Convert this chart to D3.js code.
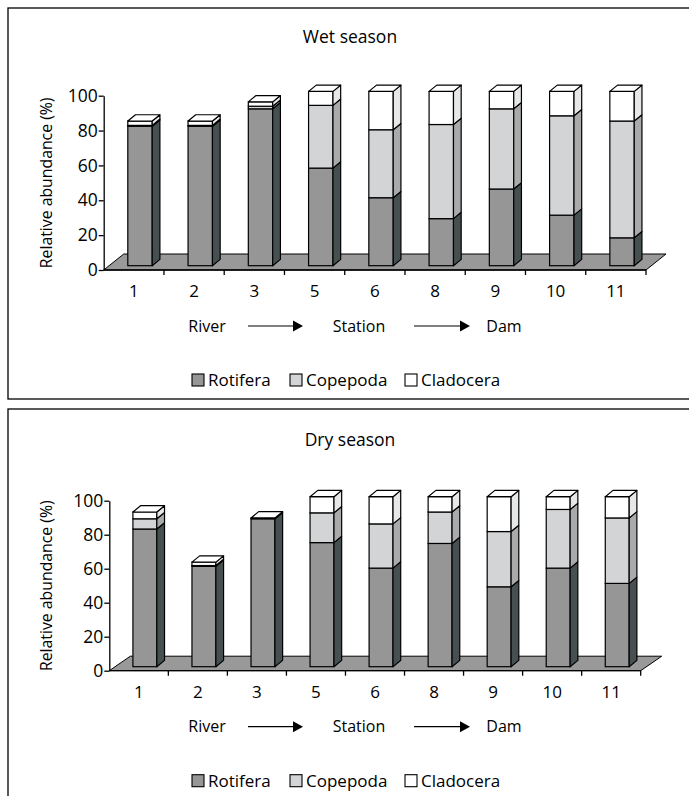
<!DOCTYPE html>
<html>
<head>
<meta charset="utf-8">
<script src="https://cdn.jsdelivr.net/npm/d3@7"></script>
<style>
  body { margin: 0; background: #fff; }
  svg text { font-family: "Open Sans", "Noto Sans", sans-serif; fill: #000; }
</style>
</head>
<body>
<div id="chart"></div>
<script>
// stations along the river -> dam gradient
var stations = ["1", "2", "3", "5", "6", "8", "9", "10", "11"];
var groups = ["Rotifera", "Copepoda", "Cladocera"];
var yTicks = [0, 20, 40, 60, 80, 100];
var flowLabels = ["River", "Station", "Dam"];

// relative abundance (%), wet season
var wetRotifera  = [80, 80, 90, 56, 39, 27, 44, 29, 16];
var wetCopepoda  = [0.5, 0.5, 1.5, 36, 39, 54, 46, 57, 67];
var wetCladocera = [2.5, 2.5, 2.5, 8, 22, 19, 10, 14, 17];

// relative abundance (%), dry season
var dryRotifera  = [81, 59, 87, 73, 58, 72.5, 47, 58, 49];
var dryCopepoda  = [6, 0.5, 0, 17.5, 26, 18.5, 32.5, 34.5, 38.5];
var dryCladocera = [4, 2, 0.5, 9.5, 16, 9, 20.5, 7.5, 12.5];

var frontFill = ["#969696", "#d3d4d5", "#ffffff"];
var sideFill  = ["#475050", "#a9aaab", "#e6e7e8"];
var topFill   = ["#b4b4b4", "#e2e2e2", "#ffffff"];

var W = 689, H = 796;
var svg = d3.select("#chart").append("svg").attr("width", W).attr("height", H);

function drawPanel(p) {
  var g = svg.append("g");

  // frame
  g.append("rect")
    .attr("x", p.box[0]).attr("y", p.box[1])
    .attr("width", p.box[2]).attr("height", p.box[3])
    .attr("fill", "none").attr("stroke", "#000").attr("stroke-width", 1.3);

  g.append("text")
    .attr("x", 350).attr("y", p.titleY).attr("dy", "0.35em")
    .attr("text-anchor", "middle").attr("font-size", "17.5px")
    .text(p.title);

  var x = d3.scaleBand().domain(stations).range([p.x0, p.x1]).padding(0);
  var y = d3.scaleLinear().domain([0, 100]).range([p.y0, p.y100]);
  var bw = x.bandwidth();

  // floor
  var fl = [[p.x0, p.y0], [p.x0 + p.fdx, p.y0 + p.fdy], [p.x1 + p.fdx, p.y0 + p.fdy], [p.x1, p.y0]];
  g.append("polygon")
    .attr("points", fl.map(d => d.join(",")).join(" "))
    .attr("fill", "#999999").attr("stroke", "#000").attr("stroke-width", 1);

  // y axis
  var ya = g.append("g")
    .attr("transform", "translate(" + p.x0 + ",0)")
    .call(d3.axisLeft(y).tickValues(yTicks).tickSize(5).tickPadding(1).tickSizeOuter(0));
  ya.select(".domain").attr("stroke", "#000").attr("stroke-width", 1.3);
  ya.selectAll(".tick line").attr("stroke", "#000").attr("stroke-width", 1.3);
  ya.selectAll(".tick text").attr("font-size", "17.5px").attr("font-family", null);

  g.append("text")
    .attr("transform", "translate(" + p.labelX + "," + ((p.y0 + p.y100) / 2) + ") rotate(-90)")
    .attr("text-anchor", "middle").attr("dy", "0.35em").attr("font-size", "15.8px")
    .text("Relative abundance (%)");

  // x axis line along the floor edge + boundary ticks
  g.append("line")
    .attr("x1", p.x0).attr("x2", p.x1).attr("y1", p.y0).attr("y2", p.y0)
    .attr("stroke", "#000").attr("stroke-width", 1.3);
  g.selectAll("line.xt")
    .data(stations.map(s => x(s) + bw))
    .enter().append("line")
    .attr("class", "xt")
    .attr("x1", d => d).attr("x2", d => d)
    .attr("y1", p.y0).attr("y2", p.y0 + 5)
    .attr("stroke", "#000").attr("stroke-width", 1.3);
  g.selectAll("text.xl")
    .data(stations)
    .enter().append("text")
    .attr("class", "xl")
    .attr("x", d => x(d) + bw / 2).attr("y", p.y0 + 21).attr("dy", "0.35em")
    .attr("text-anchor", "middle").attr("font-size", "17px")
    .text(d => d);

  // stacked 3d bars
  var dx = 7.7, dy = -6.3;
  var series = p.series;
  stations.forEach(function(st, i) {
    var fx = x(st) + bw * 0.4, fw = bw * 0.405;
    var yb = v => y(v) - p.lift;
    var acc = 0, lastIdx = 0;
    series.forEach(function(arr, k) {
      var v = arr[i];
      if (v <= 0) return;
      var t0 = yb(acc), t1 = yb(acc + v);
      g.append("rect")
        .attr("x", fx).attr("y", t1).attr("width", fw).attr("height", t0 - t1)
        .attr("fill", frontFill[k]).attr("stroke", "#000").attr("stroke-width", 1.2);
      var side = [[fx + fw, t0], [fx + fw + dx, t0 + dy], [fx + fw + dx, t1 + dy], [fx + fw, t1]];
      g.append("polygon")
        .attr("points", side.map(d => d.join(",")).join(" "))
        .attr("fill", sideFill[k]).attr("stroke", "#000").attr("stroke-width", 1.2)
        .attr("stroke-linejoin", "round");
      acc += v;
      lastIdx = k;
    });
    var tt = yb(acc);
    var top = [[fx, tt], [fx + dx, tt + dy], [fx + fw + dx, tt + dy], [fx + fw, tt]];
    g.append("polygon")
      .attr("points", top.map(d => d.join(",")).join(" "))
      .attr("fill", topFill[lastIdx]).attr("stroke", "#000").attr("stroke-width", 1.2)
      .attr("stroke-linejoin", "round");
  });

  // River -> Station -> Dam
  var fy = p.y0 + 56;
  var flowX = [207, 359, 504];
  g.selectAll("text.fl")
    .data(flowLabels)
    .enter().append("text")
    .attr("class", "fl")
    .attr("x", (d, i) => flowX[i]).attr("y", fy).attr("dy", "0.35em")
    .attr("text-anchor", "middle").attr("font-size", "16px")
    .text(d => d);
  [[248, 303], [414, 470]].forEach(function(a) {
    g.append("line")
      .attr("x1", a[0]).attr("x2", a[1] - 8).attr("y1", fy).attr("y2", fy)
      .attr("stroke", "#000").attr("stroke-width", 1.2);
    g.append("polygon")
      .attr("points", [[a[1] - 10, fy - 5.5], [a[1], fy], [a[1] - 10, fy + 5.5]].map(d => d.join(",")).join(" "))
      .attr("fill", "#000");
  });

  // legend
  var ly = p.y0 + 110;
  var legX = [192, 290, 405];
  groups.forEach(function(name, k) {
    g.append("rect")
      .attr("x", legX[k]).attr("y", ly - 6).attr("width", 12).attr("height", 12)
      .attr("fill", frontFill[k]).attr("stroke", "#000").attr("stroke-width", 1.1);
    g.append("text")
      .attr("x", legX[k] + 16).attr("y", ly).attr("dy", "0.35em")
      .attr("font-size", "17px")
      .text(name);
  });
}

drawPanel({
  title: "Wet season", titleY: 37, box: [8, 8, 700, 391],
  x0: 103.7, x1: 646, y0: 270, y100: 95.7, lift: 4.3, fdx: 20, fdy: -16, labelX: 46,
  series: [wetRotifera, wetCopepoda, wetCladocera]
});
drawPanel({
  title: "Dry season", titleY: 440, box: [8, 409, 700, 400],
  x0: 109.3, x1: 640.7, y0: 670.7, y100: 500.7, lift: 4, fdx: 21, fdy: -14.5, labelX: 46,
  series: [dryRotifera, dryCopepoda, dryCladocera]
});
</script>
</body>
</html>
